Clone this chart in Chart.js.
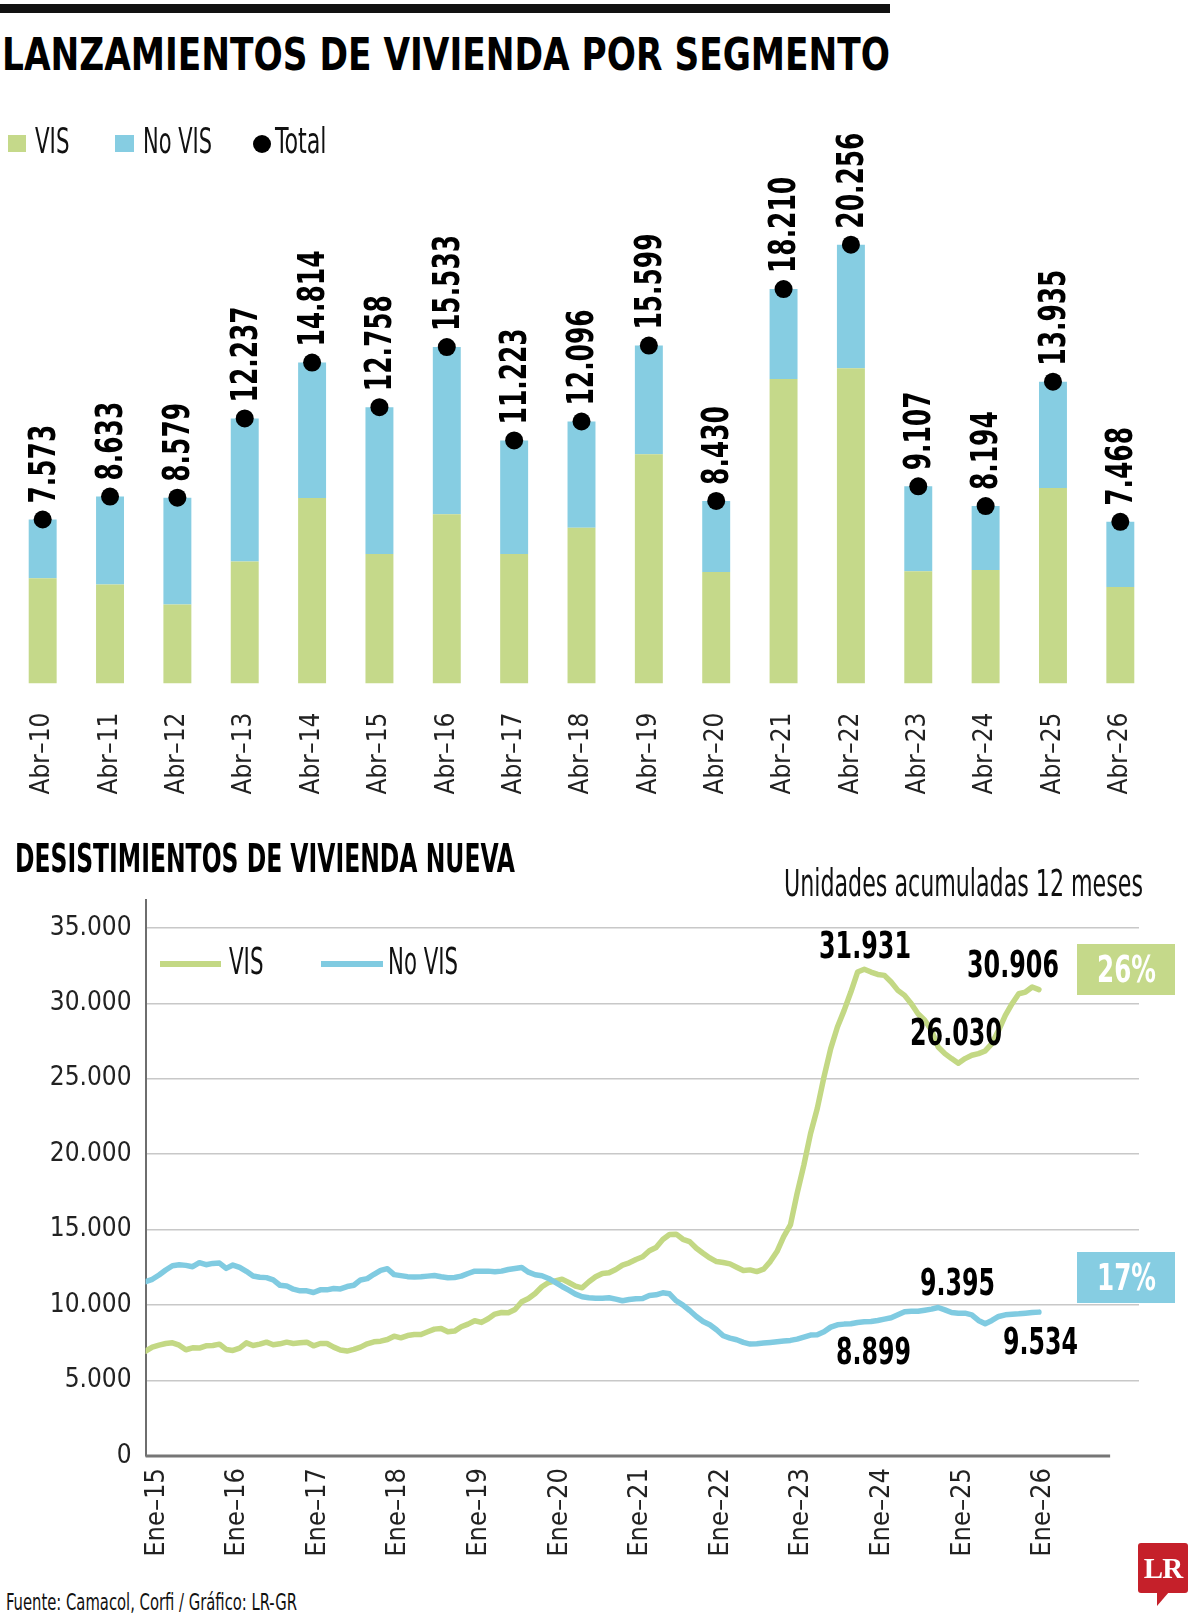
<!DOCTYPE html>
<html>
<head>
<meta charset="utf-8">
<script src="https://cdn.jsdelivr.net/npm/chart.js@4.4.1/dist/chart.umd.min.js"></script>
<style>
  html,body{margin:0;padding:0;background:#fff;}
  body{width:1200px;height:1619px;position:relative;overflow:hidden;}
  .abs{position:absolute;}
</style>
</head>
<body>
<div class="abs" style="left:0;top:4px;width:890px;height:9px;background:#111"></div>
<div class="abs" style="left:0;top:110px;width:1200px;height:700px"><canvas id="c1" width="1200" height="700" style="width:1200px;height:700px"></canvas></div>
<div class="abs" style="left:0;top:870px;width:1200px;height:700px"><canvas id="c2" width="1200" height="700" style="width:1200px;height:700px"></canvas></div>
<script>
// ---------------- DATA ----------------
const launchCategories = ["Abr–10","Abr–11","Abr–12","Abr–13","Abr–14","Abr–15","Abr–16","Abr–17","Abr–18","Abr–19","Abr–20","Abr–21","Abr–22","Abr–23","Abr–24","Abr–25","Abr–26"];
const launchVIS   = [4857, 4577, 3655, 5631, 8561, 5976, 7820, 5976, 7195, 10590, 5147, 14055, 14550, 5180, 5246, 9024, 4454];
const launchNoVIS = [2716, 4056, 4924, 6606, 6253, 6782, 7713, 5247, 4901, 5009, 3283, 4155, 5706, 3927, 2948, 4911, 3014];
const launchTotal = [7573, 8633, 8579, 12237, 14814, 12758, 15533, 11223, 12096, 15599, 8430, 18210, 20256, 9107, 8194, 13935, 7468];

// Desistimientos, monthly from Ene-15 (12-month accumulated units)
const desistVIS = [
  6952, 7215, 7346, 7456, 7500, 7346, 7040, 7171, 7149, 7303, 7325, 7412,
  7062, 6996, 7149, 7500, 7325, 7412, 7544, 7368, 7434, 7544, 7456, 7500,
  7544, 7303, 7456, 7456, 7215, 7018, 6952, 7062, 7215, 7434, 7566, 7610,
  7719, 7939, 7829, 7983, 8050, 8055, 8232, 8408, 8452, 8232, 8276, 8563,
  8739, 8960, 8850, 9093, 9402, 9512, 9490, 9711, 10218, 10439, 10770, 11212,
  11499, 11610, 11720, 11499, 11256, 11146, 11543, 11874, 12095, 12139, 12360, 12647,
  12802, 13022, 13199, 13597, 13818, 14347, 14678, 14700, 14361, 14207, 13766, 13435,
  13126, 12884, 12818, 12730, 12509, 12289, 12333, 12222, 12377, 12884, 13546, 14538,
  15310, 17405, 19279, 21373, 23027, 25122, 26996, 28429, 29531, 30744, 32068, 32250,
  32067, 31913, 31847, 31406, 30855, 30524, 29973, 29311, 28870, 28209, 27106, 26665,
  26334, 26030, 26334, 26555, 26665, 26842, 27327, 28209, 29201, 29973, 30634, 30744,
  31075, 30906
];
const desistNoVIS = [
  11557, 11710, 11996, 12325, 12610, 12675, 12632, 12544, 12807, 12675, 12763, 12785,
  12434, 12654, 12500, 12237, 11930, 11842, 11820, 11667, 11316, 11272, 11053, 10943,
  10943, 10833, 11009, 11009, 11096, 11074, 11228, 11316, 11667, 11754, 12040, 12303,
  12412, 12018, 11952, 11886, 11860, 11875, 11920, 11964, 11875, 11808, 11830, 11920,
  12095, 12250, 12250, 12250, 12206, 12250, 12360, 12427, 12493, 12183, 12007, 11941,
  11764, 11499, 11234, 10991, 10726, 10550, 10483, 10461, 10461, 10483, 10395, 10285,
  10373, 10417, 10439, 10638, 10682, 10814, 10748, 10285, 10000, 9642, 9246, 8915,
  8695, 8364, 7967, 7813, 7703, 7526, 7416, 7438, 7482, 7526, 7570, 7614,
  7659, 7747, 7879, 8011, 8033, 8232, 8540, 8695, 8739, 8761, 8849, 8890,
  8915, 8981, 9069, 9157, 9356, 9554, 9598, 9598, 9664, 9731, 9841, 9686,
  9510, 9466, 9466, 9356, 8981, 8761, 8981, 9246, 9356, 9400, 9422, 9466,
  9510, 9534
];
const desistTickLabels = ["Ene–15","Ene–16","Ene–17","Ene–18","Ene–19","Ene–20","Ene–21","Ene–22","Ene–23","Ene–24","Ene–25","Ene–26"];
const yTickValues = [0, 5000, 10000, 15000, 20000, 25000, 30000, 35000];
const annotations = [
  {text:"31.931", cx:865, cc:945},
  {text:"30.906", cx:1013, cc:964},
  {text:"26.030", cx:955.5, cc:1032},
  {text:"9.395", cx:957.5, cc:1282},
  {text:"8.899", cx:873, cc:1351},
  {text:"9.534", cx:1040.5, cc:1341}
];

// ---------------- FONTS ----------------
function hasFont(name){
  const c=document.createElement('canvas').getContext('2d');
  const t='abcdefghijklmnopqrstuvwxyz0123456789ABCDEFGHIJKLMNOPQRSTUVWXYZ';
  c.font='40px monospace'; const a=c.measureText(t).width;
  c.font='40px "'+name+'", monospace'; const b=c.measureText(t).width;
  c.font='40px serif'; const a2=c.measureText(t).width;
  c.font='40px "'+name+'", serif'; const b2=c.measureText(t).width;
  return a!==b || a2!==b2;
}
const NARROW = ['Liberation Sans Narrow','DejaVu Sans Condensed','Roboto Condensed','Open Sans Condensed','Liberation Sans'].find(hasFont) || 'sans-serif';

const GREEN = '#c5d98a';
const BLUE  = '#86cde2';
const LGREEN = '#c3d884';
const LBLUE  = '#80cbe1';

function fmt(v){ return String(v).replace(/\B(?=(\d{3})+(?!\d))/g,'.'); }

function place(text, o){
  const fs=o.fs, el=document.createElement('div');
  el.textContent=text;
  Object.assign(el.style,{position:'absolute',whiteSpace:'nowrap',fontFamily:'"'+NARROW+'", sans-serif',
    fontSize:fs+'px',fontWeight:o.weight||'normal',lineHeight:fs+'px',color:o.color||'#111',
    top:(o.cc-0.49*fs)+'px',left:'0px',transformOrigin:'left center'});
  document.body.appendChild(el);
  const w=el.getBoundingClientRect().width;
  const s=o.width? o.width/w : 1;
  const tw=w*s;
  const l=(o.cx!==undefined)? o.cx-tw/2 : o.left;
  el.style.left=l+'px';
  el.style.transform='scaleX('+s+')';
  return el;
}
function box(o){
  const el=document.createElement('div');
  Object.assign(el.style,{position:'absolute',left:o.x+'px',top:o.y+'px',width:o.w+'px',height:o.h+'px',background:o.bg,borderRadius:(o.r||0)+'px'});
  document.body.appendChild(el); return el;
}

// ---------------- HTML TEXTS ----------------
place('LANZAMIENTOS DE VIVIENDA POR SEGMENTO',{left:2,width:888,cc:54.5,fs:45,weight:'bold',color:'#000'});
box({x:8,y:135,w:18,h:17,bg:GREEN});
place('VIS',{left:34.5,width:34.5,cc:141,fs:35});
box({x:114.5,y:135,w:19,h:17,bg:BLUE});
place('No VIS',{left:142.5,width:69,cc:141,fs:35});
box({x:253,y:135,w:18,h:18,bg:'#000',r:9});
place('Total',{left:274.5,width:51.5,cc:141,fs:35});

place('DESISTIMIENTOS DE VIVIENDA NUEVA',{left:14.5,width:500,cc:858.6,fs:39,weight:'bold',color:'#000'});
place('Unidades acumuladas 12 meses',{left:783.5,width:359,cc:883.6,fs:37});

box({x:160,y:961,w:61,h:6,bg:LGREEN});
place('VIS',{left:228.5,width:34.5,cc:961.5,fs:37});
box({x:321,y:961,w:62,h:6,bg:LBLUE});
place('No VIS',{left:388,width:70,cc:961.5,fs:37});

annotations.forEach(a=>place(a.text,{cx:a.cx,cc:a.cc,fs:37,weight:'bold',color:'#000',width:a.text.length===6?92:75}));

box({x:1077,y:944,w:98,h:51,bg:GREEN});
place('26%',{cx:1126,cc:969.5,fs:37,weight:'bold',color:'#fff',width:59});
box({x:1077,y:1252,w:98,h:51,bg:BLUE});
place('17%',{cx:1126,cc:1277.5,fs:37,weight:'bold',color:'#fff',width:59});

place('Fuente: Camacol, Corfi / Gráfico: LR-GR',{left:6,width:291,cc:1602,fs:23});

// LR logo
box({x:1138,y:1543,w:50,h:50,bg:'#c5202a',r:3});
(function(){
  const tri=document.createElement('div');
  Object.assign(tri.style,{position:'absolute',left:'1157px',top:'1592px',width:'0',height:'0',
    borderLeft:'0px solid transparent',borderRight:'12px solid transparent',borderTop:'14px solid #c5202a'});
  document.body.appendChild(tri);
  const t=document.createElement('div'); t.textContent='LR';
  Object.assign(t.style,{position:'absolute',left:'1138px',top:'1553px',width:'50px',textAlign:'center',
    font:'bold 29px "Liberation Serif", serif',lineHeight:'30px',color:'#fff',letterSpacing:'-1px'});
  document.body.appendChild(t);
})();

// ---------------- CHART 1 ----------------
Chart.defaults.font.family = NARROW;
Chart.defaults.color = '#1a1a1a';

const barLabelPlugin = {
  id:'barLabels',
  afterDatasetsDraw(chart){
    const meta = chart.getDatasetMeta(2);
    const ctx = chart.ctx;
    ctx.save();
    ctx.font = 'bold 38px "'+NARROW+'", sans-serif';
    const sx = (0.456*38)/ctx.measureText('0').width;
    ctx.fillStyle = '#000';
    meta.data.forEach((pt,i)=>{
      ctx.save();
      ctx.translate(pt.x+1, pt.y-16);
      ctx.rotate(-Math.PI/2);
      ctx.scale(sx,1);
      ctx.textAlign='left'; ctx.textBaseline='middle';
      ctx.fillText(fmt(launchTotal[i]),0,1);
      ctx.restore();
    });
    ctx.restore();
  }
};

new Chart(document.getElementById('c1'),{
  type:'bar',
  data:{
    labels:launchCategories,
    datasets:[
      {label:'VIS',data:launchVIS,backgroundColor:GREEN,stack:'s',order:1,barPercentage:0.415,categoryPercentage:1},
      {label:'No VIS',data:launchNoVIS,backgroundColor:BLUE,stack:'s',order:2,barPercentage:0.415,categoryPercentage:1},
      {label:'Total',type:'line',data:launchTotal,yAxisID:'y2',showLine:false,pointRadius:9,pointHoverRadius:9,
       pointBackgroundColor:'#000',pointBorderWidth:0,borderColor:'#000',order:0}
    ]
  },
  options:{
    responsive:false, devicePixelRatio:1, animation:false,
    layout:{padding:{top:96.9,left:6.5,right:46,bottom:0}},
    plugins:{legend:{display:false},tooltip:{enabled:false}},
    scales:{
      x:{stacked:true,offset:true,grid:{display:false,drawTicks:false},border:{display:false},
         ticks:{minRotation:90,maxRotation:90,autoSkip:false,padding:29,font:{size:26},color:'#222'},
         afterFit:(s)=>{s.height=126.4;}},
      y:{stacked:true,min:0,max:22000,display:false},
      y2:{min:0,max:22000,display:false}
    }
  },
  plugins:[barLabelPlugin]
});

// ---------------- CHART 2 ----------------
const axisLinePlugin = {
  id:'axisLine',
  beforeDatasetsDraw(chart){
    const {ctx,chartArea,scales}=chart;
    const y=scales.y.getPixelForValue(0);
    ctx.save();
    ctx.strokeStyle='#767676'; ctx.lineWidth=3;
    ctx.beginPath(); ctx.moveTo(chartArea.left,y); ctx.lineTo(scales.x.getPixelForValue(143.6),y); ctx.stroke();
    ctx.restore();
  }
};

new Chart(document.getElementById('c2'),{
  type:'line',
  data:{
    datasets:[
      {label:'VIS',data:desistVIS.map((v,i)=>({x:i,y:v})),borderColor:LGREEN,borderWidth:5.5,pointRadius:0,tension:0,
       borderJoinStyle:'round',borderCapStyle:'round',order:1},
      {label:'No VIS',data:desistNoVIS.map((v,i)=>({x:i,y:v})),borderColor:LBLUE,borderWidth:5.5,pointRadius:0,tension:0,
       borderJoinStyle:'round',borderCapStyle:'round',order:0}
    ]
  },
  options:{
    responsive:false, devicePixelRatio:1, animation:false,
    layout:{padding:{top:28,left:0,right:61,bottom:0}},
    plugins:{legend:{display:false},tooltip:{enabled:false}},
    scales:{
      x:{type:'linear',min:0,max:147.9,grid:{display:false,drawTicks:false},border:{display:false},
         afterBuildTicks:(s)=>{s.ticks=desistTickLabels.map((_,i)=>({value:i*12}));},
         ticks:{minRotation:90,maxRotation:90,autoSkip:false,padding:12,labelOffset:11,font:{size:27},color:'#222',
                callback:(v)=>desistTickLabels[Math.round(v/12)]},
         afterFit:(s)=>{s.height=114;}},
      y:{min:0,max:36870,
         afterBuildTicks:(s)=>{s.ticks=yTickValues.map(v=>({value:v}));},
         grid:{drawTicks:false,lineWidth:1.5,color:(c)=>c.tick && c.tick.value===0?'rgba(0,0,0,0)':'#c8c8c8'},
         border:{display:true,color:'#6e6e6e',width:2},
         ticks:{padding:14,font:{size:26},color:'#222',callback:(v)=>fmt(v)},
         afterFit:(s)=>{s.width=145.6;}}
    }
  },
  plugins:[axisLinePlugin]
});
</script>
</body>
</html>
